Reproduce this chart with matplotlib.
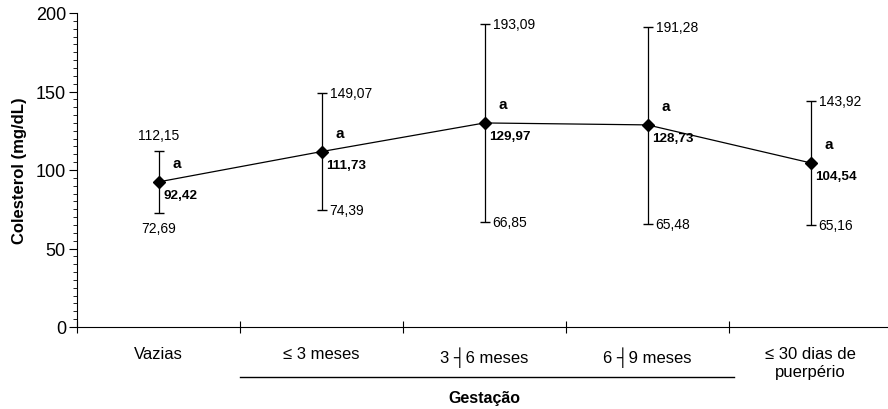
import matplotlib.pyplot as plt
from matplotlib.ticker import MultipleLocator

plt.rcParams['font.family'] = ['Liberation Sans', 'DejaVu Sans']

categorias = ['Vazias', '≤ 3 meses', '3 ┤6 meses', '6 ┤9 meses', '≤ 30 dias de\npuerpério']
medias = [92.42, 111.73, 129.97, 128.73, 104.54]
superior = [112.15, 149.07, 193.09, 191.28, 143.92]
inferior = [72.69, 74.39, 66.85, 65.48, 65.16]
letras = ['a', 'a', 'a', 'a', 'a']


def fmt(v):
    return f'{v:.2f}'.replace('.', ',')


fig = plt.figure(figsize=(8.88, 4.10), dpi=100)
ax = fig.add_axes([77 / 888, 82 / 410, 815 / 888, 314 / 410])

x = [i + 0.5 for i in range(len(medias))]
yerr = [[m - lo for m, lo in zip(medias, inferior)],
        [hi - m for m, hi in zip(medias, superior)]]
ax.errorbar(x, medias, yerr=yerr, fmt='none', ecolor='black', elinewidth=0.9,
            capsize=3.5, capthick=1.0)
ax.plot(x, medias, color='black', lw=0.9, marker='D', ms=6, mfc='black', mec='black')

for i, xi in enumerate(x):
    ax.annotate(letras[i], (xi, medias[i]), xytext=(14, 19), textcoords='offset pixels',
                fontsize=11, fontweight='bold', ha='left', va='center')
    ax.annotate(fmt(medias[i]), (xi, medias[i]), xytext=(5, -13), textcoords='offset pixels',
                fontsize=9.7, fontweight='bold', ha='left', va='center')
    if i == 0:
        ax.annotate(fmt(superior[i]), (xi, superior[i]), xytext=(0, 16), textcoords='offset pixels',
                    fontsize=10, ha='center', va='center')
        ax.annotate(fmt(inferior[i]), (xi, inferior[i]), xytext=(0, -15), textcoords='offset pixels',
                    fontsize=10, ha='center', va='center')
    else:
        ax.annotate(fmt(superior[i]), (xi, superior[i]), xytext=(8, 0), textcoords='offset pixels',
                    fontsize=10, ha='left', va='center')
        ax.annotate(fmt(inferior[i]), (xi, inferior[i]), xytext=(8, 0), textcoords='offset pixels',
                    fontsize=10, ha='left', va='center')

ax.set_xlim(0, 5)
ax.set_ylim(0, 200)
ax.yaxis.set_major_locator(MultipleLocator(50))
ax.yaxis.set_minor_locator(MultipleLocator(5))
ax.set_xticks(range(0, 6))
ax.set_xticklabels([])
ax.set_xticks(x, minor=True)
ax.set_xticklabels(categorias, minor=True, fontsize=12)
ax.tick_params(axis='x', which='major', direction='inout', length=8, width=0.8)
ax.tick_params(axis='x', which='minor', length=0, pad=14)
ax.tick_params(axis='y', which='major', length=6, width=0.8, labelsize=13, pad=2)
ax.tick_params(axis='y', which='minor', length=3, width=0.6)
for s in ['top', 'right']:
    ax.spines[s].set_visible(False)
for s in ['left', 'bottom']:
    ax.spines[s].set_linewidth(0.8)
ax.set_ylabel('Colesterol (mg/dL)', fontsize=12, fontweight='bold', labelpad=6)

# linha e rótulo de Gestação
ax.plot([1, 4.03], [-0.16, -0.16], transform=ax.get_xaxis_transform(), color='black',
        lw=1, clip_on=False)
ax.text(2.5, -0.225, 'Gestação', transform=ax.get_xaxis_transform(), ha='center', va='center',
        fontsize=11.5, fontweight='bold')

fig.savefig('out.png', dpi=100)
